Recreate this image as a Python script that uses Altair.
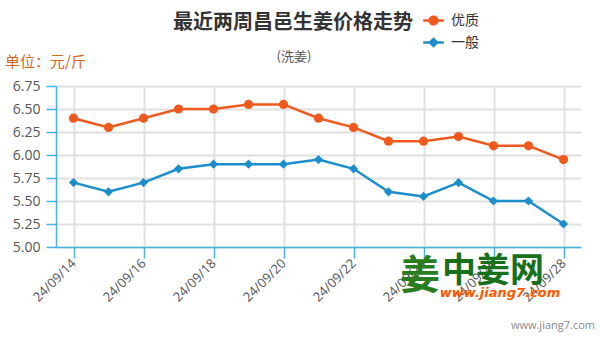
import altair as alt
import pandas as pd

# ---- data ----
dates = ["24/09/14", "24/09/15", "24/09/16", "24/09/17", "24/09/18", "24/09/19", "24/09/20",
         "24/09/21", "24/09/22", "24/09/23", "24/09/24", "24/09/25", "24/09/26", "24/09/27", "24/09/28"]
youzhi = [6.40, 6.30, 6.40, 6.50, 6.50, 6.55, 6.55, 6.40, 6.30, 6.15, 6.15, 6.20, 6.10, 6.10, 5.95]
yiban = [5.70, 5.60, 5.70, 5.85, 5.90, 5.90, 5.90, 5.95, 5.85, 5.60, 5.55, 5.70, 5.50, 5.50, 5.25]
series = ["优质", "一般"]
colors = ["#ee5a1e", "#1b8ecb"]
y_ticks = [5.00, 5.25, 5.50, 5.75, 6.00, 6.25, 6.50, 6.75]
x_ticks = dates[::2]

rows = []
for name, vals in zip(series, [youzhi, yiban]):
    for d, v in zip(dates, vals):
        rows.append({"date": d, "price": v, "series": name})
df = pd.DataFrame(rows)

NUM_FONT = "Open Sans"
CJK_FONT = "Noto Sans CJK SC"
AXIS_BLUE = "#45b3e3"

x_enc = alt.X("date:O", sort=dates,
              scale=alt.Scale(type="point", padding=0.5),
              axis=alt.Axis(values=x_ticks, labelAngle=-45, labelAlign="right",
                            labelBaseline="middle", labelFont=NUM_FONT, labelFontSize=13,
                            labelColor="#555", labelPadding=3, tickColor=AXIS_BLUE,
                            tickSize=11, tickWidth=1.5, domainColor=AXIS_BLUE, domainWidth=1.5,
                            grid=True, gridColor="#e0e0e0", gridWidth=2, title=None))
y_enc = alt.Y("price:Q",
              scale=alt.Scale(domain=[5.0, 6.75], nice=False, zero=False),
              axis=alt.Axis(values=y_ticks, format=".2f", labelFont=NUM_FONT, labelFontSize=14,
                            labelColor="#555", labelPadding=6, tickColor=AXIS_BLUE, tickSize=10,
                            tickWidth=1.5, domainColor=AXIS_BLUE, domainWidth=1.5,
                            grid=True, gridColor="#e0e0e0", gridWidth=2, title=None))
color_enc = alt.Color("series:N", scale=alt.Scale(domain=series, range=colors), legend=None)

base = alt.Chart(df)
lines = base.mark_line(strokeWidth=2.5).encode(x=x_enc, y=y_enc, color=color_enc, detail="series:N")
points = base.mark_point(filled=True, opacity=1, size=85).encode(
    x=x_enc, y=y_enc, color=color_enc,
    shape=alt.Shape("series:N", scale=alt.Scale(domain=series, range=["circle", "diamond"]), legend=None))

# legend-only layer (no visible marks), symbols are line+marker paths
circle_path = "M-1,-0.12H1V0.12H-1Z M-0.5,0A0.5,0.5 0 1,1 0.5,0A0.5,0.5 0 1,1 -0.5,0Z"
diamond_path = "M-1,-0.12H1V0.12H-1Z M0,-0.52L0.52,0L0,0.52L-0.52,0Z"
leg = alt.Legend(orient="none", legendX=367, legendY=-76, title=None, symbolSize=420,
                 labelFont=CJK_FONT, labelFontSize=14, labelColor="#333", labelOffset=7,
                 rowPadding=4, symbolStrokeWidth=0, symbolOpacity=1)
legend_layer = base.transform_filter("false").mark_point(filled=True, opacity=1).encode(
    x=x_enc, y=y_enc,
    color=alt.Color("series:N", scale=alt.Scale(domain=series, range=colors), legend=leg),
    shape=alt.Shape("series:N", scale=alt.Scale(domain=series, range=[circle_path, diamond_path]), legend=leg))

def label(text, x, y, size, color, weight="normal", align="center", font=CJK_FONT, style="normal"):
    return alt.Chart(pd.DataFrame({"t": [text]})).mark_text(
        fontSize=size, color=color, fontWeight=weight, align=align, baseline="middle",
        font=font, fontStyle=style).encode(text="t:N", x=alt.value(x), y=alt.value(y))

texts = [
    label("最近两周昌邑生姜价格走势", 237, -63, 20, "#333", weight="bold"),
    label("(洗姜)", 238, -29, 13, "#555"),
    label("单位：元/斤", -51, -24, 15, "#d2651f", align="left"),
    label("姜", 364, 191, 40, "#2a7d1e", weight="bold"),
    label("中姜网", 386, 186, 34, "#17701a", weight="bold", align="left"),
    label("www.jiang7.com", 444, 207, 13, "#ff5a00", weight="bold", font="DejaVu Sans", style="italic"),
    label("www.jiang7.com", 539, 240, 11, "#888", align="right", font=NUM_FONT),
]

chart = alt.layer(lines, points, legend_layer, *texts).resolve_scale(
    color="independent", shape="independent"
).properties(
    width=525, height=161,
    autosize=alt.AutoSizeParams(type="none"),
    padding={"left": 56, "top": 86, "right": 19, "bottom": 94},
).configure_view(stroke=None)

chart.save("out.html", embed_options={"renderer": "svg", "actions": False})
